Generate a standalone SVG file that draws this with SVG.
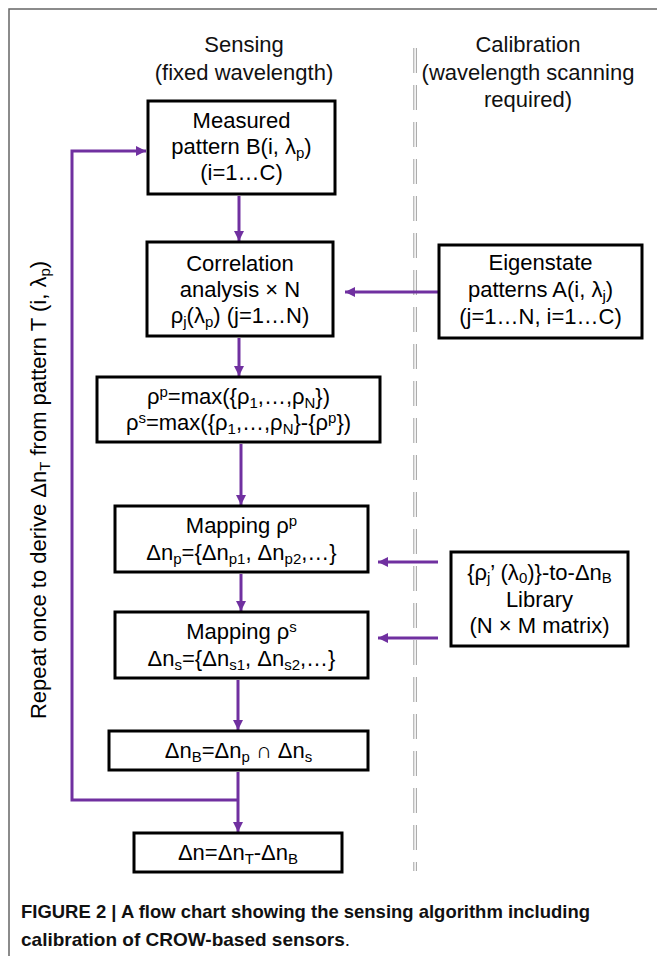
<svg xmlns="http://www.w3.org/2000/svg" width="657" height="956" viewBox="0 0 657 956">
<defs>
<style>
.t{font-family:"Liberation Sans",Arial,sans-serif;font-size:22px;fill:#000;text-anchor:middle}
.h{font-family:"Liberation Sans",Arial,sans-serif;font-size:22px;fill:#111;text-anchor:middle}
.box{fill:#fff;stroke:#000;stroke-width:3}
.c{fill:none;stroke:#7030A0;stroke-width:3}
.dash{stroke:#a8a8a8;stroke-width:1.1;stroke-dasharray:25 12;fill:none}
.cap{font-family:"Liberation Sans",Arial,sans-serif;font-size:19px;font-weight:bold;fill:#111}
.s{font-size:15px}
</style>
<marker id="ah" markerWidth="12" markerHeight="12" refX="10" refY="6" orient="auto" markerUnits="userSpaceOnUse">
<path d="M0,1 L10,6 L0,11 Z" fill="#7030A0"/>
</marker>
</defs>
<rect width="657" height="956" fill="#fff"/>
<g id="frame">
<path d="M9,956 V9 H657" fill="none" stroke="#666" stroke-width="1.5"/>
</g>
<g id="divider">
<line class="dash" x1="413.8" y1="48" x2="413.8" y2="871"/>
<line class="dash" x1="416.4" y1="48" x2="416.4" y2="871"/>
</g>
<g id="headers">
<text class="h" x="244" y="52">Sensing</text>
<text class="h" x="244" y="80">(fixed wavelength)</text>
<text class="h" x="528" y="52">Calibration</text>
<text class="h" x="528" y="80">(wavelength scanning</text>
<text class="h" x="528" y="107">required)</text>
</g>
<g id="connectors">
<line class="c" x1="239" y1="196" x2="239" y2="241" marker-end="url(#ah)"/>
<line class="c" x1="239" y1="338" x2="239" y2="376" marker-end="url(#ah)"/>
<line class="c" x1="241" y1="444" x2="241" y2="505" marker-end="url(#ah)"/>
<line class="c" x1="241" y1="574" x2="241" y2="611" marker-end="url(#ah)"/>
<line class="c" x1="238" y1="680" x2="238" y2="730" marker-end="url(#ah)"/>
<line class="c" x1="238" y1="772" x2="238" y2="832" marker-end="url(#ah)"/>
<path class="c" d="M238,800 H72 V151 H146" marker-end="url(#ah)"/>
<line class="c" x1="438" y1="292" x2="345" y2="292" marker-end="url(#ah)"/>
<line class="c" x1="438" y1="562" x2="378" y2="562" marker-end="url(#ah)"/>
<line class="c" x1="438" y1="638" x2="378" y2="638" marker-end="url(#ah)"/>
</g>
<g id="measured">
<rect class="box" x="148" y="101" width="187" height="93"/>
<text class="t" x="241.5" y="128">Measured</text>
<text class="t" x="241.5" y="154">pattern B(i, λ<tspan class="s" dy="4">p</tspan><tspan dy="-4">)</tspan></text>
<text class="t" x="241.5" y="180">(i=1…C)</text>
</g>
<g id="correlation">
<rect class="box" x="147" y="242" width="186" height="94"/>
<text class="t" x="240" y="271">Correlation</text>
<text class="t" x="240" y="297">analysis × N</text>
<text class="t" x="240" y="323">ρ<tspan class="s" dy="4">j</tspan><tspan dy="-4">(λ</tspan><tspan class="s" dy="4">p</tspan><tspan dy="-4">) (j=1…N)</tspan></text>
</g>
<g id="maxrho">
<rect class="box" x="97" y="377" width="283" height="65"/>
<text class="t" x="238.5" y="404">ρ<tspan class="s" dy="-7">p</tspan><tspan dy="7">=max({ρ</tspan><tspan class="s" dy="4">1</tspan><tspan dy="-4">,…,ρ</tspan><tspan class="s" dy="4">N</tspan><tspan dy="-4">})</tspan></text>
<text class="t" x="238.5" y="430">ρ<tspan class="s" dy="-7">s</tspan><tspan dy="7">=max({ρ</tspan><tspan class="s" dy="4">1</tspan><tspan dy="-4">,…,ρ</tspan><tspan class="s" dy="4">N</tspan><tspan dy="-4">}-{ρ</tspan><tspan class="s" dy="-7">p</tspan><tspan dy="7">})</tspan></text>
</g>
<g id="mapping-p">
<rect class="box" x="115" y="506" width="253" height="66"/>
<text class="t" x="241.5" y="533">Mapping ρ<tspan class="s" dy="-7">p</tspan></text>
<text class="t" x="241.5" y="560">Δn<tspan class="s" dy="4">p</tspan><tspan dy="-4">={Δn</tspan><tspan class="s" dy="4">p1</tspan><tspan dy="-4">, Δn</tspan><tspan class="s" dy="4">p2</tspan><tspan dy="-4">,…}</tspan></text>
</g>
<g id="mapping-s">
<rect class="box" x="115" y="612" width="253" height="66"/>
<text class="t" x="241.5" y="639">Mapping ρ<tspan class="s" dy="-7">s</tspan></text>
<text class="t" x="241.5" y="666">Δn<tspan class="s" dy="4">s</tspan><tspan dy="-4">={Δn</tspan><tspan class="s" dy="4">s1</tspan><tspan dy="-4">, Δn</tspan><tspan class="s" dy="4">s2</tspan><tspan dy="-4">,…}</tspan></text>
</g>
<g id="intersect">
<rect class="box" x="109" y="731" width="259" height="39"/>
<text class="t" x="238.5" y="758">Δn<tspan class="s" dy="4">B</tspan><tspan dy="-4">=Δn</tspan><tspan class="s" dy="4">p</tspan><tspan dy="-4"> ∩ Δn</tspan><tspan class="s" dy="4">s</tspan></text>
</g>
<g id="result">
<rect class="box" x="134" y="833" width="208" height="39"/>
<text class="t" x="238" y="860">Δn=Δn<tspan class="s" dy="4">T</tspan><tspan dy="-4">-Δn</tspan><tspan class="s" dy="4">B</tspan></text>
</g>
<g id="eigenstate">
<rect class="box" x="439" y="245" width="203" height="93"/>
<text class="t" x="540.5" y="270">Eigenstate</text>
<text class="t" x="540.5" y="297">patterns A(i, λ<tspan class="s" dy="4">j</tspan><tspan dy="-4">)</tspan></text>
<text class="t" x="540.5" y="324">(j=1…N, i=1…C)</text>
</g>
<g id="library">
<rect class="box" x="451" y="552" width="177" height="94"/>
<text class="t" x="539.5" y="580">{ρ<tspan class="s" dy="3">j</tspan><tspan dy="-3">’ (λ</tspan><tspan class="s" dy="3">0</tspan><tspan dy="-3">)}-to-Δn</tspan><tspan class="s" dy="3">B</tspan></text>
<text class="t" x="539.5" y="607">Library</text>
<text class="t" x="539.5" y="633">(N × M matrix)</text>
</g>
<g id="loop-label">
<text class="t" transform="translate(46,490) rotate(-90)" x="0" y="0">Repeat once to derive Δn<tspan class="s" dy="4">T</tspan><tspan dy="-4">  from pattern T (i, λ</tspan><tspan class="s" dy="4">p</tspan><tspan dy="-4">)</tspan></text>
</g>
<g id="caption">
<text class="cap" x="21" y="918" textLength="569" lengthAdjust="spacingAndGlyphs">FIGURE 2 | A flow chart showing the sensing algorithm including</text>
<text class="cap" x="21" y="946">calibration of CROW-based sensors<tspan font-weight="normal">.</tspan></text>
</g>
</svg>
